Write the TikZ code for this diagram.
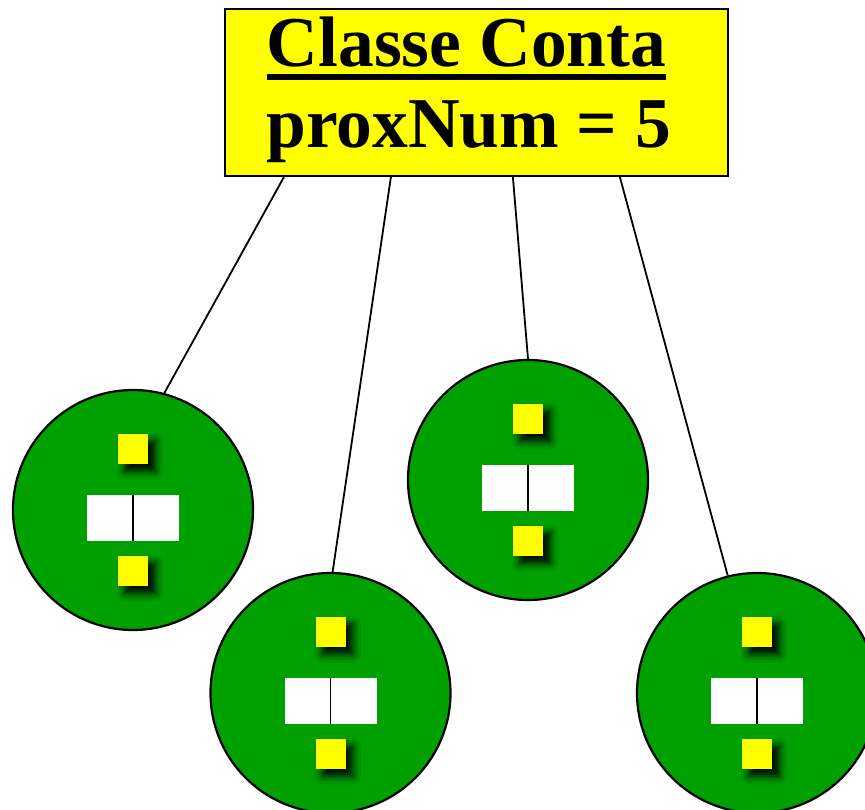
\documentclass[tikz,border=0pt]{standalone}
\usepackage{fontspec}
\setmainfont{Liberation Serif}
\usetikzlibrary{shadows.blur}

\definecolor{objgreen}{RGB}{0,160,0}
\definecolor{classyellow}{RGB}{255,255,0}

\tikzset{
  obj/.style={circle, draw=black, line width=2.2pt, fill=objgreen,
    minimum size=240pt, inner sep=0pt},
  attr/.style={fill=classyellow, minimum size=30pt, inner sep=0pt,
    blur shadow={shadow xshift=7pt, shadow yshift=-7pt,
      shadow blur radius=8pt, shadow opacity=100}},
  slot/.style={fill=white, minimum width=92pt, minimum height=46pt, inner sep=0pt},
  divider/.style={line width=1.7pt},
  link/.style={line width=1.8pt},
  classbox/.style={draw=black, line width=2.2pt, fill=classyellow,
    minimum width=503pt, minimum height=167pt, inner sep=0pt},
  title/.style={font=\fontsize{71.5}{72}\selectfont\bfseries, anchor=base, inner sep=0pt},
}

\begin{document}
\begin{tikzpicture}[x=1pt, y=-1pt]
  \useasboundingbox (0,0) rectangle (865,810);
  \clip (0,0) rectangle (865,810);

  % class box with its static attribute
  \node[classbox] (cls) at (476.5,92.5) {};
  \node[title] (t1) at (466.5,67) {Classe Conta};
  \node[title] (t2) at (469,148) {proxNum = 5};
  \draw[line width=5.5pt] ([yshift=-10pt]t1.base west) -- ([yshift=-10pt]t1.base east);

  % the four objects
  \foreach \n/\x/\y in {c1/133/510, c2/330.5/693, c3/528/480, c4/757/693} {
    \node[obj] (\n) at (\x,\y) {};
    \node[attr] (\n a) at (\x,\y-61) {};
    \node[slot] (\n s) at (\x,\y+8) {};
    \draw[divider] (\n s.north) -- (\n s.south);
    \node[attr] (\n b) at (\x,\y+61) {};
  }

  % links from the class to each object
  \draw[link] ([xshift=60pt]cls.south west) -- (c1.75);
  \draw[link] ([xshift=167pt]cls.south west) -- (c2.89);
  \draw[link] ([xshift=289pt]cls.south west) -- (c3.90);
  \draw[link] ([xshift=396pt]cls.south west) -- (c4.104);
\end{tikzpicture}
\end{document}
